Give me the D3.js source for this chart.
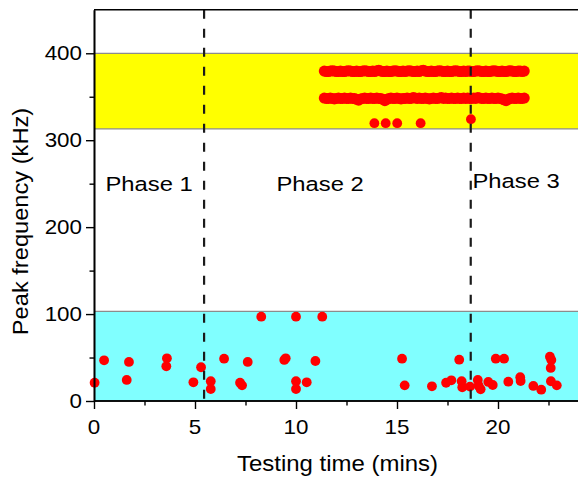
<!DOCTYPE html>
<html>
<head>
<meta charset="utf-8">
<script src="https://cdn.jsdelivr.net/npm/d3@7"></script>
<style>
  html, body { margin: 0; padding: 0; background: #fff; }
  svg { display: block; }
  text { font-family: "Liberation Sans", Arial, sans-serif; fill: #000; }
</style>
</head>
<body>
<svg id="chart" width="578" height="477"></svg>
<script>
// ---------------- data ----------------
const xTicks = [0, 5, 10, 15, 20];
const xMinorTicks = [2.5, 7.5, 12.5, 17.5, 22.5];
const yTicks = [0, 100, 200, 300, 400];
const yMinorTicks = [50, 150, 250, 350];
const xTitle = "Testing time (mins)";
const yTitle = "Peak frequency (kHz)";
const phaseNames = ["Phase 1", "Phase 2", "Phase 3"];
const phaseBoundaries = [5.45, 18.65];
const yellowBand = [313, 400];
const cyanBand = [0, 103];

// low-frequency events (cyan band)
const lowT = [8.28, 10.0, 11.30, 0.50, 1.73, 3.61, 3.58, 5.30, 6.44, 7.61, 9.49, 9.42, 10.96,
  0.03, 1.62, 4.92, 5.78, 5.78, 7.23, 7.33, 10.0, 10.0, 10.53,
  15.25, 18.08, 19.89, 20.30, 22.57, 22.64, 22.61,
  15.38, 16.73, 17.43, 17.69, 18.20, 18.23, 18.61, 19.0, 19.14, 19.04, 19.52, 19.74,
  20.51, 21.10, 21.12, 21.75, 22.14, 22.62, 22.91];
const lowF = [97, 97, 97, 46.8, 44.9, 49.1, 39.9, 38.8, 48.7, 44.9, 49.1, 47.2, 46,
  21, 24.2, 21.5, 22.7, 13.8, 21, 18, 22.7, 13.8, 21.5,
  48.7, 47.5, 48.7, 48.7, 51, 47.2, 38,
  18, 16.9, 21, 23.8, 22.7, 15.8, 16.5, 24.2, 13.5, 17.6, 21.9, 18.4,
  22.2, 27.3, 23, 17.3, 13, 22.7, 18];

// isolated high-frequency events (yellow band)
const highT = [13.88, 14.44, 15.01, 16.17, 18.66];
const highF = [319.6, 319.6, 319.6, 319.6, 324.2];

// dense high-frequency streams (time, upper stream, lower stream)
const streamT = [
  11.4, 11.5, 11.6, 11.7, 11.8, 11.9, 12.0, 12.1, 12.2, 12.3,
  12.4, 12.5, 12.6, 12.7, 12.8, 12.9, 13.0, 13.1, 13.2, 13.3,
  13.4, 13.5, 13.6, 13.7, 13.8, 13.9, 14.0, 14.1, 14.2, 14.3,
  14.4, 14.5, 14.6, 14.7, 14.8, 14.9, 15.0, 15.1, 15.2, 15.3,
  15.4, 15.5, 15.6, 15.7, 15.8, 15.9, 16.0, 16.1, 16.2, 16.3,
  16.4, 16.5, 16.6, 16.7, 16.8, 16.9, 17.0, 17.1, 17.2, 17.3,
  17.4, 17.5, 17.6, 17.7, 17.8, 17.9, 18.0, 18.1, 18.2, 18.3,
  18.4, 18.5, 18.6, 18.7, 18.8, 18.9, 19.0, 19.1, 19.2, 19.3,
  19.4, 19.5, 19.6, 19.7, 19.8, 19.9, 20.0, 20.1, 20.2, 20.3,
  20.4, 20.5, 20.6, 20.7, 20.8, 20.9, 21.0, 21.1, 21.2, 21.3];
const stream1F = [
  379.5, 379, 379, 379.5, 380, 379.5, 379, 379, 379.5, 379,
  379, 379.5, 380, 379.5, 379, 379, 379.5, 379, 379, 379.5,
  380, 379.5, 379, 379, 379.5, 379, 380, 380.5, 379.5, 379,
  379, 379.5, 379, 379, 379.5, 380, 379.5, 379, 379, 379.5,
  379, 379.5, 380, 379.5, 379, 379, 379.5, 379, 380, 380.5,
  379.5, 379, 379, 379.5, 379, 379, 379.5, 380, 379.5, 379,
  379, 379.5, 379, 379, 379.5, 380, 379.5, 379, 379, 379.5,
  379, 379.5, 379.5, 379, 379, 379.5, 380, 379.5, 379, 379,
  379.5, 379, 379, 379.5, 380, 379.5, 379, 379, 379.5, 379,
  379, 379.5, 380, 379.5, 379, 379, 379.5, 379.5, 379, 379.5];
const stream2F = [
  348.5, 348, 348, 348.5, 348, 347.5, 348, 348.5, 348, 348,
  348.5, 348, 348, 348.5, 348, 348, 347, 346, 347.5, 348,
  348.5, 348, 348, 348.5, 348, 348, 348.5, 348, 348, 347,
  345.5, 347, 348, 348.5, 348, 348, 348.5, 348, 347.5, 348,
  348, 348.5, 348, 348, 349, 348.5, 348, 348.5, 348, 348,
  348.5, 348, 347.5, 348, 348.5, 348, 348, 348.5, 349, 348,
  348.5, 348, 348, 348.5, 348, 348, 348.5, 348, 348, 348.5,
  348, 348.5, 348, 348, 348.5, 348, 349, 348.5, 348, 348,
  348.5, 348, 348, 348.5, 348, 348, 348.5, 348, 347.5, 346.5,
  345.5, 347, 348, 348.5, 348, 348, 348.5, 348, 348, 348.5];

// ---------------- drawing ----------------
const svg = d3.select("#chart");
const W = 578, H = 477;
const x = d3.scaleLinear().domain([0, 24]).range([94, 94 + 24 * 20.2]);
const y = d3.scaleLinear().domain([0, 450]).range([401, 401 - 450 * 0.8693]);
const x0 = x(0), x1 = W + 10;

// bands
function band(b, fill) {
  svg.append("rect")
    .attr("x", x0).attr("y", y(b[1]))
    .attr("width", x1 - x0).attr("height", y(b[0]) - y(b[1]))
    .attr("fill", fill);
  [b[0], b[1]].forEach(v => {
    if (v === 0) return;
    svg.append("line")
      .attr("x1", x0).attr("x2", x1)
      .attr("y1", y(v)).attr("y2", y(v))
      .attr("stroke", "#8c8c8c").attr("stroke-width", 1.2);
  });
}
band(yellowBand, "#ffff00");
band(cyanBand, "#80ffff");

// points
function dots(ts, fs, r) {
  svg.append("g").selectAll("circle")
    .data(ts.map((t, i) => [t, fs[i]]))
    .join("circle")
    .attr("cx", d => x(d[0]))
    .attr("cy", d => y(d[1]))
    .attr("r", r)
    .attr("fill", "#ff0000");
}
dots(streamT, stream1F, 5.5);
dots(streamT, stream2F, 5.5);
dots(highT, highF, 4.9);
dots(lowT, lowF, 4.9);

// phase boundaries
phaseBoundaries.forEach(t => {
  svg.append("line")
    .attr("x1", x(t)).attr("x2", x(t))
    .attr("y1", y(450)).attr("y2", y(0))
    .attr("stroke", "#1a1a1a").attr("stroke-width", 2.2)
    .attr("stroke-dasharray", "9,10");
});

// top frame
svg.append("line")
  .attr("x1", x0).attr("x2", x1)
  .attr("y1", y(450)).attr("y2", y(450))
  .attr("stroke", "#000").attr("stroke-width", 1.6);

// axes
const gx = svg.append("g").attr("transform", `translate(0,${y(0)})`);
gx.call(d3.axisBottom(x).tickValues(xTicks).tickSizeInner(8).tickSizeOuter(0).tickFormat(""));
gx.append("g").call(d3.axisBottom(x).tickValues(xMinorTicks).tickSizeInner(4.5).tickSizeOuter(0).tickFormat(""));
gx.selectAll("path.domain").attr("d", `M${x0},0H${x1}`);

const gy = svg.append("g").attr("transform", `translate(${x0},0)`);
gy.call(d3.axisLeft(y).tickValues(yTicks).tickSizeInner(8).tickSizeOuter(0).tickFormat(""));
gy.append("g").call(d3.axisLeft(y).tickValues(yMinorTicks).tickSizeInner(4.5).tickSizeOuter(0).tickFormat(""));

svg.selectAll(".domain").attr("stroke", "#000").attr("stroke-width", 1.6);
svg.selectAll(".tick line").attr("stroke", "#000").attr("stroke-width", 1.4);

// tick labels
const sx = 1.12;
svg.append("g").selectAll("text").data(xTicks).join("text")
  .attr("transform", d => `translate(${x(d)},433.5) scale(${sx},1)`)
  .attr("text-anchor", "middle")
  .attr("font-size", 20)
  .text(d => d);
svg.append("g").selectAll("text").data(yTicks).join("text")
  .attr("transform", d => `translate(82,${y(d) + 7.2}) scale(${sx},1)`)
  .attr("text-anchor", "end")
  .attr("font-size", 20)
  .text(d => d);

// phase labels
const phasePos = [[105.5, 190.5], [276.5, 190.5], [472.5, 187.5]];
svg.append("g").selectAll("text").data(phaseNames).join("text")
  .attr("transform", (d, i) => `translate(${phasePos[i][0]},${phasePos[i][1]}) scale(1.16,1)`)
  .attr("font-size", 20.5)
  .text(d => d);

// axis titles
svg.append("text")
  .attr("transform", `translate(337.5,471) scale(1.09,1)`)
  .attr("text-anchor", "middle")
  .attr("font-size", 22)
  .text(xTitle);
svg.append("text")
  .attr("transform", `translate(27.5,221.5) rotate(-90) scale(1.1,1)`)
  .attr("text-anchor", "middle")
  .attr("font-size", 21.5)
  .text(yTitle);
</script>
</body>
</html>
